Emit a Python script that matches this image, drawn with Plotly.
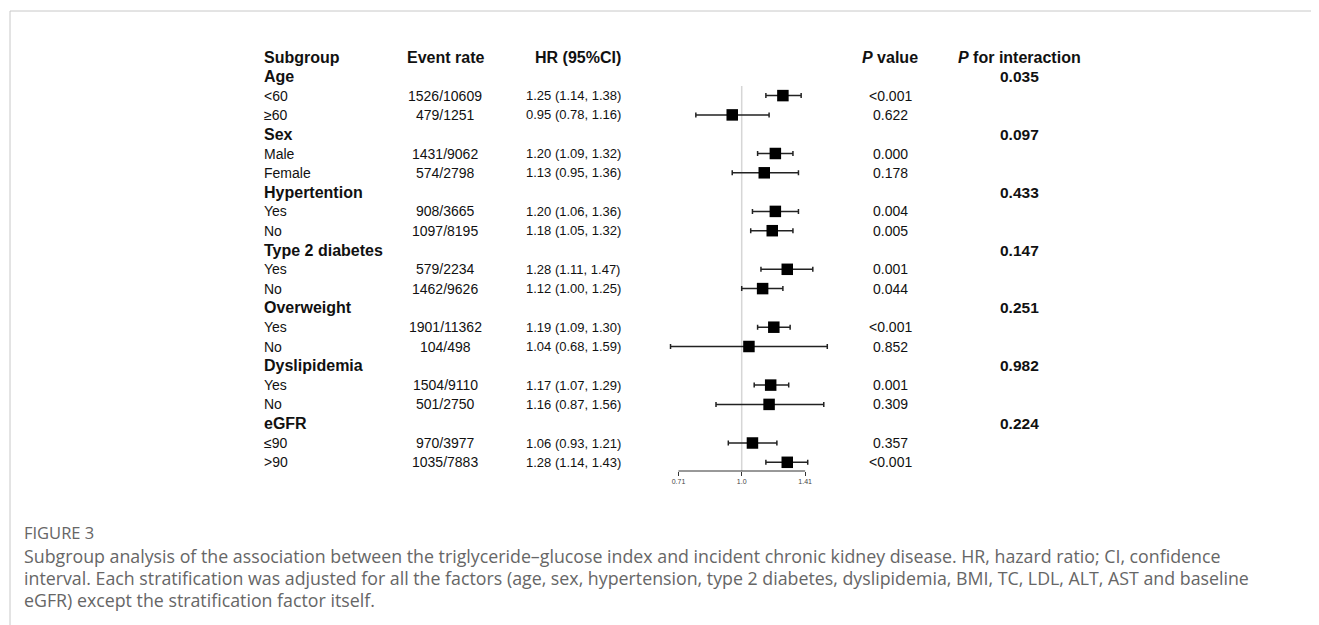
import plotly.graph_objects as go

# ---------------- data ----------------
groups = ["Age", "Sex", "Hypertention", "Type 2 diabetes", "Overweight", "Dyslipidemia", "eGFR"]
p_interaction = ["0.035", "0.097", "0.433", "0.147", "0.251", "0.982", "0.224"]

subgroups = ["<60", "≥60", "Male", "Female", "Yes", "No", "Yes", "No",
             "Yes", "No", "Yes", "No", "≤90", ">90"]
event_rate = ["1526/10609", "479/1251", "1431/9062", "574/2798", "908/3665", "1097/8195",
              "579/2234", "1462/9626", "1901/11362", "104/498", "1504/9110", "501/2750",
              "970/3977", "1035/7883"]
hr = [1.25, 0.95, 1.20, 1.13, 1.20, 1.18, 1.28, 1.12, 1.19, 1.04, 1.17, 1.16, 1.06, 1.28]
ci_low = [1.14, 0.78, 1.09, 0.95, 1.06, 1.05, 1.11, 1.00, 1.09, 0.68, 1.07, 0.87, 0.93, 1.14]
ci_high = [1.38, 1.16, 1.32, 1.36, 1.36, 1.32, 1.47, 1.25, 1.30, 1.59, 1.29, 1.56, 1.21, 1.43]
p_value = ["<0.001", "0.622", "0.000", "0.178", "0.004", "0.005", "0.001", "0.044",
           "<0.001", "0.852", "0.001", "0.309", "0.357", "<0.001"]

x_ticks = [0.71, 1.0, 1.41]
x_tick_labels = ["0.71", "1.0", "1.41"]

headers = ["Subgroup", "Event rate", "HR (95%CI)", "<i>P</i> value", "<i>P</i> for interaction"]

caption_title = "FIGURE 3"
caption_lines = [
    "Subgroup analysis of the association between the triglyceride\u2013glucose index and incident chronic kidney disease. HR, hazard ratio; CI, confidence",
    "interval. Each stratification was adjusted for all the factors (age, sex, hypertension, type 2 diabetes, dyslipidemia, BMI, TC, LDL, ALT, AST and baseline",
    "eGFR) except the stratification factor itself.",
]

# ---------------- layout helpers ----------------
WIN_W, WIN_H = 1319, 625
OFF = 8  # default page body margin
W, H = WIN_W - OFF, WIN_H - OFF


def fx(p):
    return (p - OFF) / W


def fy(p):
    return 1 - (p - OFF) / H


ROW0, ROW_H = 57.0, 19.3
group_rows = [1 + 3 * g for g in range(len(groups))]
sub_rows = [2 + 3 * g + k for g in range(len(groups)) for k in range(2)]

plot_top, plot_bottom = 40, 471
y_top = (plot_top - ROW0) / ROW_H
y_bot = (plot_bottom - ROW0) / ROW_H

ref_px, px_per_dec = 741.7, 425.0
x_left, x_right = 640, 850
x_range = [(x_left - ref_px) / px_per_dec, (x_right - ref_px) / px_per_dec]

FONT = "Liberation Sans, Arial, sans-serif"
TXT = "#111111"
FS = 14
FS_BOLD = 16

col_sub = 262
col_event = 445
col_hr = 573
col_p = 890
col_pint = 1019

# ---------------- figure ----------------
fig = go.Figure()
fig.add_trace(go.Scatter(
    x=hr, y=sub_rows, mode="markers",
    marker=dict(symbol="square", size=11.5, color="black", line=dict(width=0)),
    error_x=dict(type="data", symmetric=False,
                 array=[h - v for h, v in zip(ci_high, hr)],
                 arrayminus=[v - l for v, l in zip(hr, ci_low)],
                 color="#222222", thickness=1.5, width=2.5),
    hoverinfo="skip", showlegend=False,
))

ann = []


def add_text(x, y, text, anchor="center", bold=False, size=None):
    if size is None:
        size = FS_BOLD if bold else FS
    ann.append(dict(x=fx(x), y=y, xref="paper", yref="y",
                    text=("<b>%s</b>" % text) if bold else text,
                    showarrow=False, xanchor=anchor, yanchor="middle",
                    font=dict(family=FONT, size=size, color=TXT)))


# headers
add_text(col_sub, 0, headers[0], anchor="left", bold=True)
add_text(col_event, 0, headers[1], bold=True)
add_text(col_hr + 5, 0, headers[2], bold=True)
add_text(col_p, 0, headers[3], bold=True)
add_text(col_pint, 0, headers[4], bold=True)

for g, r in enumerate(group_rows):
    add_text(col_sub, r, groups[g], anchor="left", bold=True)
    add_text(col_pint, r, p_interaction[g], bold=True, size=15.5)

for i, r in enumerate(sub_rows):
    add_text(col_sub, r, subgroups[i], anchor="left")
    add_text(col_event, r, event_rate[i])
    add_text(col_hr, r, "%.2f (%.2f, %.2f)" % (hr[i], ci_low[i], ci_high[i]), size=13)
    add_text(col_p, r, p_value[i])

# caption
CAP_FONT = "Open Sans, sans-serif"
CAP_COL = "#666666"
ann.append(dict(x=fx(22), y=fy(532), xref="paper", yref="paper", text=caption_title,
                showarrow=False, xanchor="left", yanchor="middle",
                font=dict(family=CAP_FONT, size=16.5, color=CAP_COL)))
for k, line in enumerate(caption_lines):
    ann.append(dict(x=fx(22), y=fy(556 + 22 * k), xref="paper", yref="paper", text=line,
                    showarrow=False, xanchor="left", yanchor="middle",
                    font=dict(family=CAP_FONT, size=17.8, color=CAP_COL)))

shapes = [
    # reference line at HR = 1
    dict(type="line", xref="x", yref="y", x0=1.0, x1=1.0, y0=1.5, y1=y_bot,
         line=dict(color="#d6d6d6", width=1.5), layer="below"),
    # axis line spanning the tick range
    dict(type="line", xref="x", yref="y domain", x0=min(x_ticks), x1=max(x_ticks), y0=0, y1=0,
         line=dict(color="#333333", width=1)),
    # page frame
    dict(type="line", xref="paper", yref="paper", x0=fx(10), x1=1, y0=fy(11), y1=fy(11),
         line=dict(color="#c8c8c8", width=1)),
    dict(type="line", xref="paper", yref="paper", x0=fx(10), x1=fx(10), y0=fy(11), y1=0,
         line=dict(color="#c8c8c8", width=1)),
]

fig.update_layout(
    width=W, height=H, margin=dict(l=0, r=0, t=0, b=0),
    paper_bgcolor="white", plot_bgcolor="white",
    showlegend=False,
    annotations=ann, shapes=shapes,
    xaxis=dict(type="log", domain=[fx(x_left), fx(x_right)], range=x_range,
               showgrid=False, zeroline=False, showline=False,
               tickvals=x_ticks, ticktext=x_tick_labels,
               ticks="outside", ticklen=4, tickwidth=1, tickcolor="#333333",
               tickfont=dict(family=FONT, size=7, color="#444444")),
    yaxis=dict(domain=[fy(plot_bottom), fy(plot_top)], range=[y_bot, y_top],
               showgrid=False, zeroline=False, showline=False, showticklabels=False,
               ticks=""),
)

fig.write_html("out.html")
